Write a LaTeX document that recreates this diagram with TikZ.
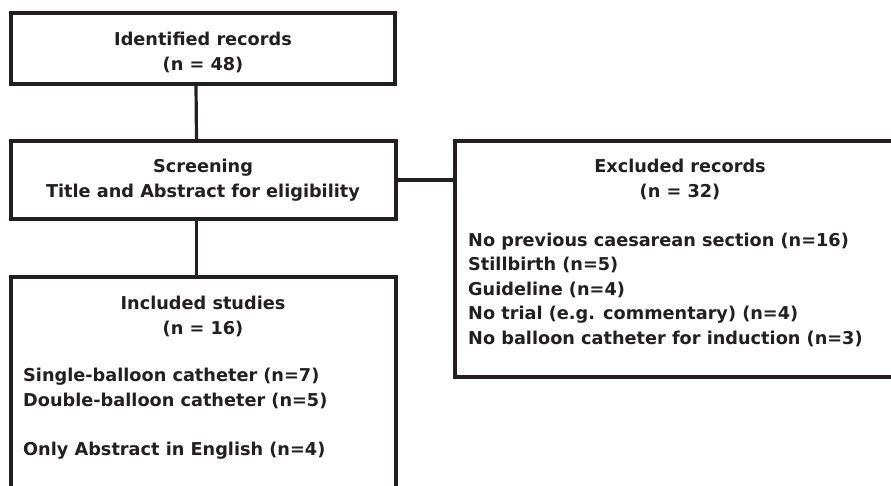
\documentclass[tikz,border=0pt]{standalone}
\usepackage{fontspec}
\setmainfont{DejaVu Sans}
\definecolor{inkgray}{HTML}{231F20}
\begin{document}
\begin{tikzpicture}[x=1pt,y=-1pt]
\tikzstyle{flow box}=[rectangle,draw=inkgray,line width=3.2pt,inner sep=0]
\tikzset{
	flow text/.style={inner sep=0,text=inkgray,font=\bfseries\fontsize{17.7}{24.5}\selectfont},
	flow line/.style={draw=inkgray,line width=3.2pt}
}
\path[use as bounding box,clip] (0,0) rectangle (891,485);
% boxes
\node[flow box,minimum width=384,minimum height=71] (identified) at (203,48.5) {};
\node[flow box,minimum width=385,minimum height=78] (screening) at (203.5,180) {};
\node[flow box,minimum width=445,minimum height=236] (excluded) at (677.5,259) {};
\node[flow box,minimum width=385,minimum height=243] (included) at (203.5,398.5) {};
% texts (base = last line)
\node[flow text,align=center,anchor=base] (identifiedtxt) at (203,70) {Identified records\\(n = 48)};
\node[flow text,align=center,anchor=base] (screeningtxt) at (203,197) {Screening\\Title and Abstract for eligibility};
\node[flow text,align=center,anchor=base] (excludedtxt) at (680,197) {Excluded records\\(n = 32)};
\node[flow text,align=left,anchor=base west] (excludedlist) at (468,344) {No previous caesarean section (n=16)\\Stillbirth (n=5)\\Guideline (n=4)\\No trial (e.g. commentary) (n=4)\\No balloon catheter for induction (n=3)};
\node[flow text,align=center,anchor=base] (includedtxt) at (203,334) {Included studies\\(n = 16)};
\node[flow text,align=left,anchor=base west] (includedlist) at (23,455) {Single-balloon catheter (n=7)\\Double-balloon catheter (n=5)\\[24.5pt]Only Abstract in English (n=4)};
% connectors
\draw[flow line] ([xshift=-7pt]identified.south) -- ([xshift=-7pt]screening.north);
\draw[flow line] ([xshift=-7pt]screening.south) -- ([xshift=-7pt]included.north);
\draw[flow line] (screening.east) -- (screening.east -| excluded.west);
\end{tikzpicture}
\end{document}
